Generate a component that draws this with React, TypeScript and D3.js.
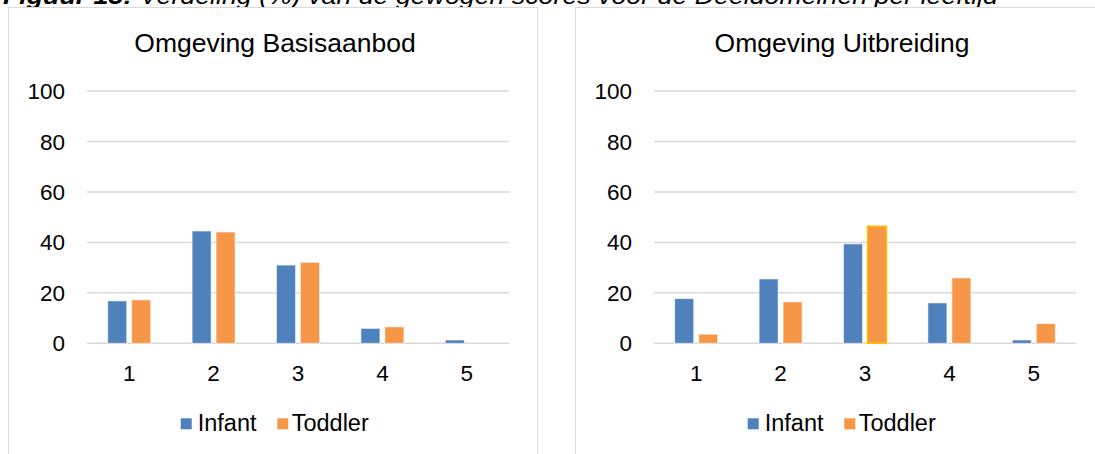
import React from "react";
import * as d3 from "d3";

const categories = ["1", "2", "3", "4", "5"];
const seriesNames = ["Infant", "Toddler"];
const yTicks = [0, 20, 40, 60, 80, 100];

const basisTitle = "Omgeving Basisaanbod";
const basisInfant = [16.8, 44.5, 31.0, 5.9, 1.3];
const basisToddler = [17.2, 44.1, 32.1, 6.5, 0];

const uitbreidingTitle = "Omgeving Uitbreiding";
const uitbreidingInfant = [17.7, 25.5, 39.4, 16.0, 1.3];
const uitbreidingToddler = [3.6, 16.4, 46.4, 25.9, 7.8];

const caption = "Verdeling (%) van de gewogen scores voor de Deeldomeinen per leeftijd";
const captionLabel = "Figuur 13:";

const colors = ["#4F81BD", "#F79646"];
const FONT = "Arial, 'Liberation Sans', Helvetica, sans-serif";

const W = 1095;
const H = 454;
const PANEL_W = 529;
const PANEL_TOP = 7.5;

type PanelProps = {
  left: number;
  title: string;
  infant: number[];
  toddler: number[];
  highlight?: number;
};

function Panel({ left, title, infant, toddler, highlight }: PanelProps) {
  const plotLeft = left + 78.5;
  const plotRight = left + PANEL_W - 28.5;
  const y = d3.scaleLinear().domain([0, 100]).range([343.3, 91]);
  const x0 = d3.scaleBand<string>().domain(categories).range([plotLeft, plotRight]).padding(0);
  const x1 = d3
    .scaleBand<string>()
    .domain(seriesNames)
    .range([0, x0.bandwidth()])
    .paddingInner(0.208)
    .paddingOuter(0.864);
  const values = [infant, toddler];
  const cx = left + PANEL_W / 2;

  return (
    <g>
      <rect x={left} y={PANEL_TOP} width={PANEL_W} height={H + 20} fill="#ffffff" stroke="#d9d9d9" strokeWidth={1} />
      <text x={cx + 2} y={52} textAnchor="middle" fontFamily={FONT} fontSize={26.5} fill="#000">
        {title}
      </text>
      {yTicks.map((t) => (
        <g key={t}>
          <line x1={plotLeft} x2={plotRight} y1={y(t)} y2={y(t)} stroke="#d9d9d9" strokeWidth={1.5} />
          <text x={plotLeft - 22} y={y(t)} dy="0.36em" textAnchor="end" fontFamily={FONT} fontSize={22.5} fill="#000">
            {t}
          </text>
        </g>
      ))}
      {categories.map((c, i) => (
        <g key={c}>
          {seriesNames.map((s, j) => {
            const v = values[j][i];
            if (v <= 0) return null;
            const isHi = highlight === i && j === 1;
            return (
              <rect
                key={s}
                x={(x0(c) as number) + (x1(s) as number)}
                y={y(v)}
                width={x1.bandwidth()}
                height={y(0) - y(v)}
                fill={colors[j]}
                stroke={isHi ? "#FFC000" : "#ffffff"}
                strokeOpacity={isHi ? 1 : 0.55}
                strokeWidth={isHi ? 1.5 : 1}
              />
            );
          })}
          <text
            x={(x0(c) as number) + x0.bandwidth() / 2}
            y={380.5}
            textAnchor="middle"
            fontFamily={FONT}
            fontSize={22.5}
            fill="#000"
          >
            {c}
          </text>
        </g>
      ))}
      <g>
        <rect x={left + 172.2} y={418.3} width={11} height={11} fill={colors[0]} />
        <text x={left + 189.2} y={431} fontFamily={FONT} fontSize={23.5} fill="#000">
          {seriesNames[0]}
        </text>
        <rect x={left + 268.8} y={418.3} width={11} height={11} fill={colors[1]} />
        <text x={left + 283.2} y={431} fontFamily={FONT} fontSize={23.5} fill="#000">
          {seriesNames[1]}
        </text>
      </g>
    </g>
  );
}

export default function App() {
  return (
    <svg
      width={W}
      height={H}
      viewBox={`0 0 ${W} ${H}`}
      style={{ position: "absolute", left: 0, top: 0, background: "#fff" }}
    >
      <rect x={0} y={0} width={W} height={H} fill="#fff" />
      <text
        x={3}
        y={3.5}
        fontFamily={FONT}
        fontSize={24}
        fontStyle="italic"
        fill="#000"
        textLength={995}
        lengthAdjust="spacingAndGlyphs"
      >
        <tspan fontWeight="bold">{captionLabel}</tspan> {caption}
      </text>
      <Panel left={8.5} title={basisTitle} infant={basisInfant} toddler={basisToddler} />
      <Panel left={575.5} title={uitbreidingTitle} infant={uitbreidingInfant} toddler={uitbreidingToddler} highlight={2} />
    </svg>
  );
}
